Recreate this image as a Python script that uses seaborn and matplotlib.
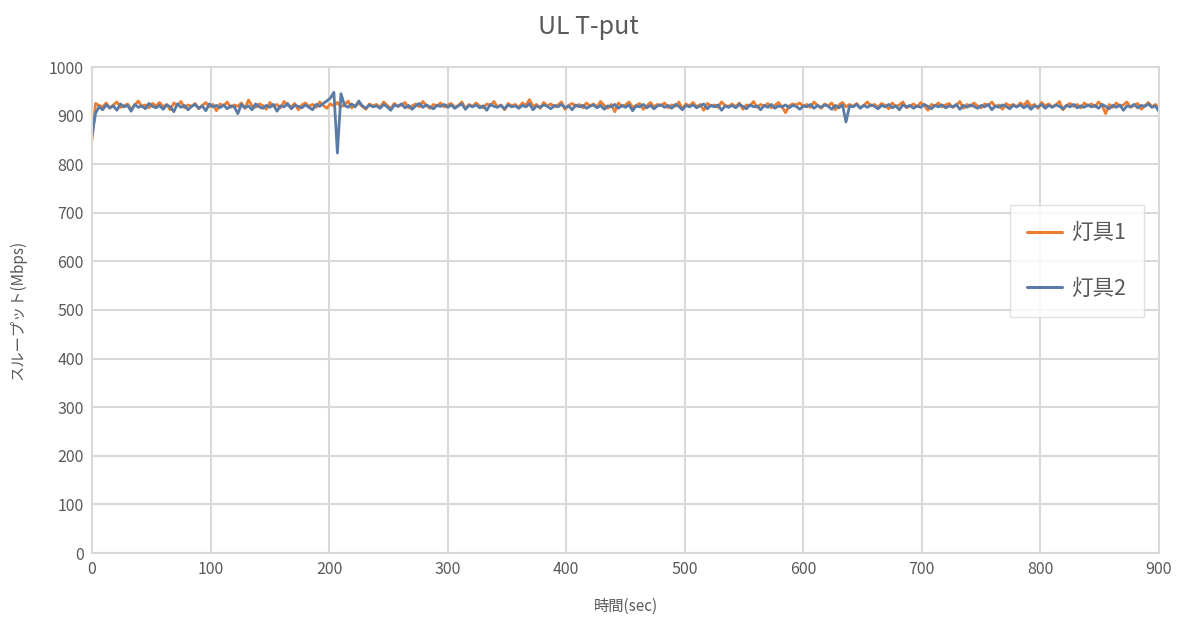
import numpy as np
import pandas as pd
import matplotlib
matplotlib.use("Agg")
import matplotlib.pyplot as plt
import seaborn as sns
from matplotlib.lines import Line2D

time_sec = list(range(0, 901, 3))

lamp1 = [
    850, 925, 921, 918, 926, 915, 922, 928, 917, 920, 924, 913, 921, 930, 919, 922, 916, 925, 920, 927,
    918, 923, 912, 926, 921, 929, 916, 922, 919, 925, 914, 921, 927, 918, 923, 910, 924, 920, 928, 917,
    922, 919, 926, 915, 932, 920, 917, 924, 921, 913, 927, 919, 923, 916, 929, 921, 918, 925, 912, 922,
    926, 919, 923, 917, 928, 921, 915, 924, 920, 927, 918, 922, 930, 916, 921, 925, 919, 913, 924, 920,
    923, 917, 928, 921, 914, 925, 919, 922, 927, 916, 920, 924, 918, 929, 921, 915, 923, 920, 926, 918,
    922, 925, 917, 921, 928, 914, 923, 919, 926, 920, 916, 924, 921, 929, 918, 922, 912, 925, 920, 923,
    917, 926, 921, 933, 919, 923, 915, 927, 920, 924, 918, 922, 928, 913, 921, 925, 919, 923, 916, 926,
    920, 924, 918, 929, 921, 915, 923, 908, 926, 919, 922, 928, 917, 921, 925, 913, 920, 927, 918, 923,
    921, 926, 916, 922, 919, 928, 914, 924, 920, 927, 918, 923, 911, 925, 920, 922, 917, 928, 921, 919,
    924, 918, 926, 913, 922, 920, 929, 917, 923, 919, 925, 916, 921, 927, 918, 906, 920, 924, 922, 926,
    919, 923, 917, 928, 921, 915, 924, 920, 926, 912, 922, 927, 918, 923, 919, 925, 916, 921, 928, 920,
    923, 917, 925, 921, 914, 926, 919, 922, 928, 916, 920, 924, 918, 927, 921, 911, 923, 920, 926, 918,
    922, 925, 917, 921, 929, 915, 923, 919, 926, 920, 916, 924, 921, 928, 918, 922, 913, 925, 920, 923,
    918, 926, 921, 930, 919, 923, 915, 927, 920, 924, 918, 922, 929, 912, 921, 925, 919, 923, 916, 926,
    920, 924, 918, 928, 921, 904, 923, 917, 926, 919, 922, 928, 917, 921, 925, 913, 920, 927, 918, 923,
    915,
]

lamp2 = [
    858, 905, 918, 912, 922, 916, 920, 911, 924, 918, 921, 909, 923, 917, 920, 914, 925, 919, 916, 921,
    913, 922, 918, 908, 924, 917, 921, 912, 919, 923, 915, 920, 910, 924, 918, 921, 916, 922, 914, 920,
    918, 904, 923, 916, 920, 912, 924, 918, 915, 921, 917, 923, 909, 920, 918, 925, 914, 921, 919, 916,
    922, 917, 912, 923, 919, 925, 930, 936, 948, 823, 945, 921, 917, 924, 918, 930, 920, 915, 922, 918,
    920, 915, 923, 918, 911, 922, 919, 924, 916, 921, 913, 920, 925, 917, 922, 918, 914, 921, 919, 923,
    917, 922, 915, 920, 924, 913, 921, 918, 922, 916, 920, 911, 923, 919, 917, 921, 914, 922, 918, 920,
    915, 921, 918, 924, 912, 920, 917, 922, 919, 914, 921, 918, 923, 916, 920, 912, 922, 918, 921, 915,
    919, 922, 916, 921, 913, 920, 918, 923, 915, 921, 917, 922, 910, 920, 918, 923, 916, 921, 914, 920,
    922, 917, 921, 915, 923, 919, 912, 921, 918, 922, 916, 920, 924, 914, 921, 918, 922, 911, 920, 917,
    921, 916, 923, 919, 914, 922, 918, 920, 912, 921, 917, 923, 915, 920, 918, 922, 916, 921, 919, 913,
    920, 918, 923, 915, 921, 917, 922, 919, 913, 921, 916, 922, 887, 920, 918, 923, 915, 921, 917, 922,
    919, 914, 921, 918, 923, 916, 920, 912, 922, 918, 921, 915, 920, 917, 923, 919, 914, 921, 918, 922,
    916, 920, 918, 923, 913, 921, 917, 922, 919, 915, 921, 918, 923, 912, 920, 917, 922, 919, 914, 921,
    918, 922, 916, 921, 913, 920, 918, 923, 915, 921, 917, 922, 919, 914, 921, 918, 923, 916, 920, 917,
    922, 918, 921, 915, 923, 919, 914, 921, 917, 922, 911, 920, 918, 923, 916, 921, 919, 924, 917, 920,
    908,
]

series_names = ["灯具1", "灯具2"]
x_ticks = list(range(0, 901, 100))
y_ticks = list(range(0, 1001, 100))

df = pd.DataFrame({
    "t": time_sec * 2,
    "v": lamp1 + lamp2,
    "series": [series_names[0]] * len(lamp1) + [series_names[1]] * len(lamp2),
})

sns.set_theme(style="white")
plt.rcParams["font.family"] = ["Noto Sans CJK JP", "DejaVu Sans"]

text_color = "#595959"
grid_color = "#D9D9D9"
palette = {series_names[0]: "#ED7D31", series_names[1]: "#5A7BA6"}

fig = plt.figure(figsize=(11.86, 6.17), dpi=100)
ax = fig.add_axes([92 / 1186, 1 - 553 / 617, (1159 - 92) / 1186, (553 - 67) / 617])

sns.lineplot(data=df, x="t", y="v", hue="series", palette=palette,
             linewidth=2.0, ax=ax, legend=False, estimator=None, sort=False)

ax.set_xlim(0, 900)
ax.set_ylim(0, 1000)
ax.set_xticks(x_ticks)
ax.set_yticks(y_ticks)
ax.grid(True, color=grid_color, linewidth=1.5)
ax.set_axisbelow(True)
for s in ax.spines.values():
    s.set_color(grid_color)
    s.set_linewidth(1.5)
ax.tick_params(axis="both", colors=text_color, labelsize=11.5, length=0, pad=6)

ax.set_xlabel("時間(sec)", color=text_color, fontsize=11, labelpad=14)
ax.set_ylabel("スループット(Mbps)", color=text_color, fontsize=11, labelpad=16)
fig.text(588 / 1186, 1 - 27 / 617, "UL T-put", ha="center", va="center",
         fontsize=18, color=text_color)

handles = [Line2D([0], [0], color=palette[n], linewidth=2.2) for n in series_names]
leg = fig.legend(handles, series_names, loc="upper left",
                 bbox_to_anchor=(1010 / 1186, 1 - 205 / 617),
                 bbox_transform=fig.transFigure,
                 fontsize=15.5, frameon=True, fancybox=False,
                 labelspacing=1.55, handlelength=1.6, handletextpad=0.45,
                 borderpad=0.8, borderaxespad=0)
leg.get_frame().set_edgecolor(grid_color)
leg.get_frame().set_linewidth(1.0)
for t in leg.get_texts():
    t.set_color(text_color)

fig.savefig("out.png", dpi=100)
